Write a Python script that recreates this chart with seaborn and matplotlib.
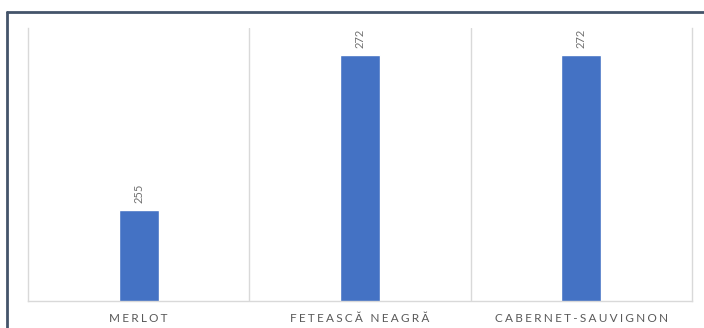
import matplotlib
matplotlib.use("Agg")
import matplotlib.pyplot as plt
from matplotlib.lines import Line2D
import seaborn as sns
import pandas as pd

# values
varieties = ["MERLOT", "FETEASCĂ NEAGRĂ", "CABERNET-SAUVIGNON"]
counts = [255, 272, 272]

df = pd.DataFrame({"variety": varieties, "count": counts})

sns.set_style("white")
plt.rcParams["font.family"] = ["Lato", "DejaVu Sans"]

grey_text = "#595959"
grid_col = "#D9D9D9"

fig = plt.figure(figsize=(7.04, 3.28), dpi=100)
ax = fig.add_axes([28 / 704, 1 - 301 / 328, 664 / 704, 273 / 328])

sns.barplot(data=df, x="variety", y="count", color="#4472C4", width=0.18,
            saturation=1, ax=ax)

ax.set_ylim(245, 275)
ax.set_xlim(-0.5, 2.5)
ax.set_xlabel("")
ax.set_ylabel("")
ax.set_yticks([])

# letter-spaced category labels like the Excel original
spaced = ["\u2009\u200a".join(v) for v in varieties]
ax.set_xticks(range(len(varieties)))
ax.set_xticklabels(spaced, color=grey_text, fontsize=8.5)
ax.tick_params(axis="x", length=0, pad=9)

# vertical separators between categories
for xv in [0.5, 1.5]:
    ax.axvline(xv, color=grid_col, lw=1, zorder=0)
for side in ["left", "right", "bottom"]:
    ax.spines[side].set_color(grid_col)
    ax.spines[side].set_linewidth(1)
ax.spines["top"].set_visible(False)

for cont in ax.containers:
    ax.bar_label(cont, labels=[str(v) for v in counts], rotation=90,
                 padding=5, color="#6F6F6F", fontsize=8)

# dark frame at top and left of the picture
frame = "#44546A"
fig.add_artist(Line2D([7 / 704, 7 / 704], [0, 1 - 12 / 328], color=frame, lw=2,
                      transform=fig.transFigure))
fig.add_artist(Line2D([7 / 704, 1], [1 - 12 / 328, 1 - 12 / 328], color=frame, lw=2,
                      transform=fig.transFigure))

fig.savefig("out.png", dpi=100)
